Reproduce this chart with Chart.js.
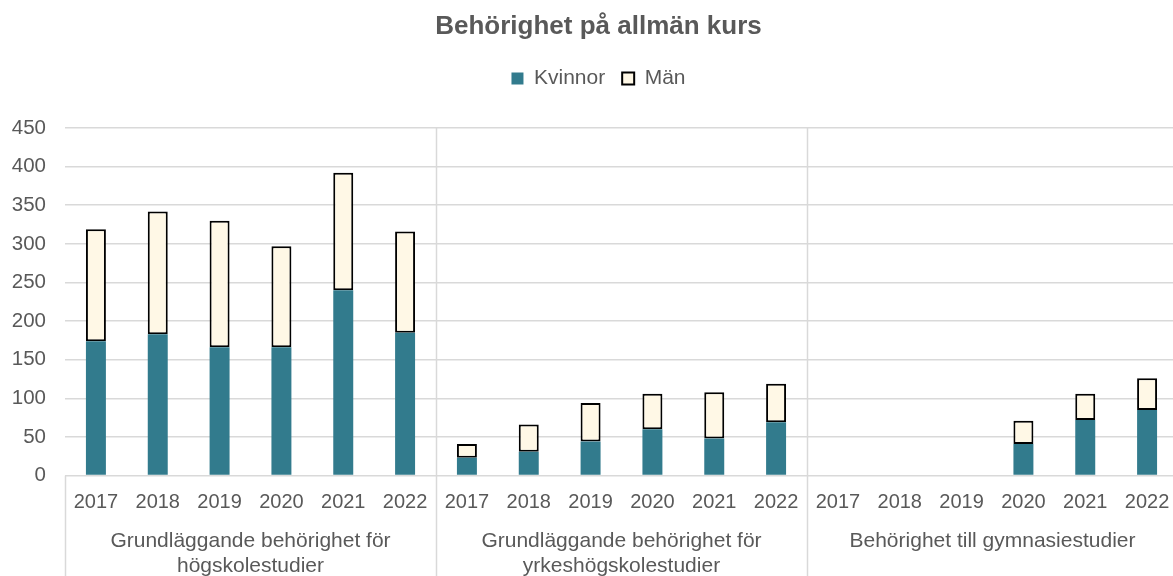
<!DOCTYPE html>
<html>
<head>
<meta charset="utf-8">
<script src="https://cdn.jsdelivr.net/npm/chart.js@4"></script>
<style>
  html, body { margin: 0; padding: 0; background: #fff; overflow: hidden; }
  #wrap { width: 1197px; height: 576px; }
</style>
</head>
<body>
<div id="wrap"><canvas id="chart"></canvas></div>
<script>
// Data
const years = ['2017', '2018', '2019', '2020', '2021', '2022',
               '2017', '2018', '2019', '2020', '2021', '2022',
               '2017', '2018', '2019', '2020', '2021', '2022'];
const groups = [
    ['Grundläggande behörighet för', 'högskolestudier'],
    ['Grundläggande behörighet för', 'yrkeshögskolestudier'],
    'Behörighet till gymnasiestudier'
];
const kvinnor = [174, 183, 166, 166, 240, 185,
                 23, 31, 44, 60, 48, 69,
                 null, null, null, 41, 72, 85];
const man = [145, 159, 164, 131, 152, 131,
             18, 35, 50, 46, 60, 50,
             null, null, null, 30, 34, 41];
const yTicks = [0, 50, 100, 150, 200, 250, 300, 350, 400, 450];

const textColor = '#595959';
const gridColor = '#d9d9d9';
const font = 'Liberation Sans, Arial, sans-serif';

// Vertical separators between the three groups, reaching down through the labels
const groupLines = {
    id: 'groupLines',
    afterDraw(chart) {
        const ctx = chart.ctx;
        const x = chart.scales.x;
        const area = chart.chartArea;
        const half = (x.getPixelForValue(1) - x.getPixelForValue(0)) / 2;
        ctx.save();
        ctx.strokeStyle = gridColor;
        ctx.lineWidth = 1.5;
        [0, 6, 12, 18].forEach(i => {
            const px = Math.round(x.getPixelForValue(i) - half) + 0.5;
            const top = (i === 0 || i === 18) ? area.bottom : area.top;
            ctx.beginPath();
            ctx.moveTo(px, top);
            ctx.lineTo(px, chart.height);
            ctx.stroke();
        });
        ctx.restore();
    }
};

new Chart(document.getElementById('chart'), {
    type: 'bar',
    data: {
        labels: years,
        datasets: [
            {
                label: 'Kvinnor',
                data: kvinnor,
                backgroundColor: '#327b8d',
                borderWidth: 0,
                barPercentage: 0.323,
                categoryPercentage: 1
            },
            {
                label: 'Män',
                data: man,
                backgroundColor: '#fff8e6',
                borderColor: '#000000',
                borderWidth: 2,
                borderSkipped: false,
                barPercentage: 0.323,
                categoryPercentage: 1
            }
        ]
    },
    options: {
        responsive: true,
        maintainAspectRatio: false,
        animation: false,
        layout: { padding: { left: 0, right: 0, top: 0, bottom: -3 } },
        plugins: {
            title: {
                display: true,
                text: 'Behörighet på allmän kurs',
                color: textColor,
                font: { family: font, size: 26, weight: 'bold' },
                padding: { top: 11.4, bottom: 8.4 }
            },
            // empty spacer between the legend and the plot
            subtitle: {
                display: true,
                text: '',
                weight: 500,
                font: { size: 10, lineHeight: 1 },
                padding: { top: 19, bottom: 0 }
            },
            legend: {
                position: 'top',
                labels: {
                    color: textColor,
                    font: { family: font, size: 21 },
                    boxWidth: 12,
                    boxHeight: 12,
                    padding: 17
                }
            },
            tooltip: { enabled: false }
        },
        scales: {
            x: {
                stacked: true,
                grid: { display: false, drawTicks: false },
                border: { display: false },
                ticks: {
                    color: textColor,
                    font: { family: font, size: 20 },
                    maxRotation: 0,
                    autoSkip: false,
                    padding: 14.5
                }
            },
            groups: {
                type: 'category',
                labels: groups,
                position: 'bottom',
                offset: true,
                grid: { display: false, drawTicks: false },
                border: { display: false },
                ticks: {
                    color: textColor,
                    font: { family: font, size: 21 },
                    maxRotation: 0,
                    autoSkip: false,
                    padding: 0
                }
            },
            y: {
                stacked: true,
                min: 0,
                max: 450,
                afterBuildTicks: axis => {
                    axis.ticks = yTicks.map(v => ({ value: v }));
                },
                afterFit: axis => {
                    axis.width = 65;
                },
                grid: {
                    color: gridColor,
                    lineWidth: 1.5,
                    drawTicks: false
                },
                border: { display: false },
                ticks: {
                    color: textColor,
                    font: { family: font, size: 20.5 },
                    padding: 19
                }
            },
            // empty right margin so the plot ends where the original one did
            margin: {
                type: 'linear',
                position: 'right',
                grid: { display: false, drawTicks: false },
                border: { display: false },
                ticks: { display: false },
                afterFit: axis => {
                    axis.width = 19;
                }
            }
        }
    },
    plugins: [groupLines]
});
</script>
</body>
</html>
